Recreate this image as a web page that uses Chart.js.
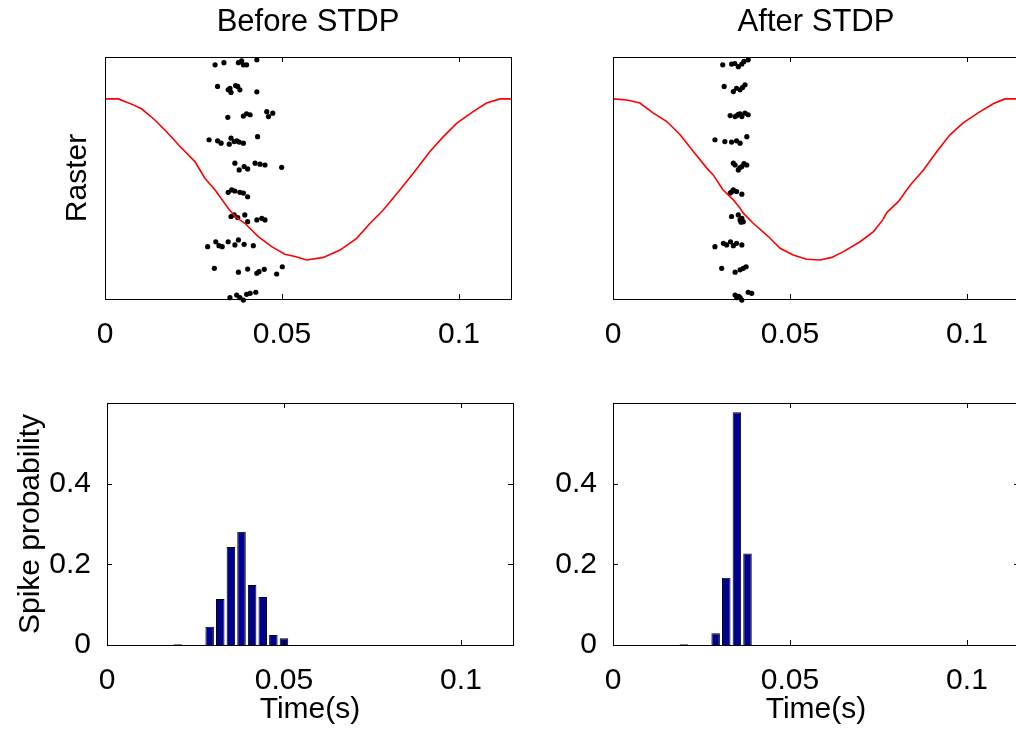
<!DOCTYPE html>
<html>
<head>
<meta charset="utf-8">
<script src="https://cdn.jsdelivr.net/npm/chart.js@4.4.1/dist/chart.umd.min.js"></script>
<style>
  html, body { margin: 0; padding: 0; background: #fff; overflow: hidden; width: 1016px; height: 730px; }
  canvas { position: absolute; }
</style>
</head>
<body>
<canvas id="rasterBefore" width="555" height="360" style="left:0;top:0"></canvas>
<canvas id="rasterAfter" width="475" height="360" style="left:555px;top:0"></canvas>
<canvas id="histBefore" width="555" height="370" style="left:0;top:360px"></canvas>
<canvas id="histAfter" width="475" height="370" style="left:555px;top:360px"></canvas>
<script>
// axis ticks
const xTicks = [0, 0.05, 0.1];
const probTicks = [0, 0.2, 0.4];
const tMax = 0.1147;

// red reference curve (time in s, height in trial units)
const beforeCurveT = [0, .0038, .0056, .0080, .0104, .0141, .0174, .0212, .0254, .0282, .0311, .0348, .0367, .0395, .0433, .0471, .0508, .0537, .0570, .0617, .0664, .0711, .0749, .0786, .0833, .0871, .0918, .0956, .0994, .1040, .1078, .1116, .1147];
const beforeCurveV = [8.59, 8.59, 8.49, 8.36, 8.20, 7.78, 7.33, 6.76, 6.18, 5.54, 5.09, 4.39, 4.07, 3.81, 3.30, 2.91, 2.62, 2.53, 2.40, 2.50, 2.78, 3.23, 3.81, 4.32, 5.09, 5.73, 6.57, 7.14, 7.66, 8.10, 8.43, 8.59, 8.59];
const afterCurveT = [0, .0039, .0076, .0114, .0152, .0189, .0227, .0265, .0283, .0311, .0340, .0359, .0368, .0396, .0439, .0472, .0509, .0547, .0585, .0618, .0651, .0698, .0736, .0762, .0774, .0806, .0840, .0877, .0915, .0952, .0990, .1037, .1074, .1107, .1147];
const afterCurveV = [8.59, 8.55, 8.43, 8.04, 7.72, 7.22, 6.57, 5.93, 5.67, 5.09, 4.71, 4.39, 4.20, 3.81, 3.30, 2.85, 2.59, 2.43, 2.40, 2.50, 2.72, 3.10, 3.49, 3.94, 4.23, 4.64, 5.28, 5.86, 6.57, 7.21, 7.68, 8.10, 8.40, 8.59, 8.59];

// spikes, trials 10 (top) to 1 (bottom)
const beforeSpikeT = [
  .0311, .0336, .0377, .0386, .0391, .0400, .0429,
  .0318, .0348, .0356, .0353, .0369, .0375, .0381, .0429,
  .0347, .0391, .0400, .0410, .0457, .0462, .0474,
  .0294, .0318, .0328, .0351, .0356, .0365, .0372, .0379, .0391, .0431,
  .0367, .0379, .0393, .0403, .0424, .0438, .0452, .0499,
  .0348, .0358, .0367, .0381, .0391, .0403,
  .0356, .0365, .0375, .0395, .0403, .0429, .0443, .0452,
  .0290, .0313, .0322, .0331, .0348, .0367, .0377, .0393, .0419,
  .0309, .0377, .0403, .0429, .0435, .0450, .0485, .0501,
  .0353, .0372, .0381, .0391, .0400, .0410, .0426
];
const beforeSpikeY = [
  9.90, 9.98, 9.98, 10.05, 9.90, 9.90, 10.09,
  9.07, 8.94, 8.84, 9.00, 9.10, 9.07, 8.94, 8.86,
  7.88, 7.93, 8.02, 7.98, 8.10, 7.91, 8.04,
  7.02, 6.98, 6.89, 6.85, 7.08, 6.95, 6.98, 6.93, 6.89, 7.14,
  6.12, 5.86, 5.99, 5.90, 6.12, 6.08, 6.05, 5.96,
  5.00, 5.09, 5.05, 5.00, 4.97, 4.83,
  4.07, 4.13, 4.03, 4.13, 3.87, 3.94, 4.00, 3.94,
  2.91, 3.10, 2.95, 2.91, 3.10, 2.98, 3.17, 3.00, 2.95,
  2.08, 1.93, 2.05, 1.89, 1.95, 2.04, 1.86, 2.14,
  0.95, 1.05, 0.95, 0.86, 1.08, 1.12, 1.16
];
const afterSpikeT = [
  .0310, .0335, .0344, .0354, .0364, .0370, .0382,
  .0314, .0340, .0349, .0359, .0366, .0373,
  .0331, .0345, .0350, .0354, .0359, .0364, .0373, .0382,
  .0288, .0316, .0335, .0349, .0359, .0378,
  .0340, .0345, .0354, .0359, .0364, .0370, .0378,
  .0331, .0335, .0340, .0349, .0364,
  .0335, .0354, .0359, .0362, .0364, .0368,
  .0288, .0312, .0321, .0332, .0340, .0349, .0364,
  .0307, .0345, .0359, .0368, .0376,
  .0345, .0350, .0355, .0359, .0364, .0382, .0392
];
const afterSpikeY = [
  9.90, 9.93, 9.95, 9.83, 9.93, 10.03, 10.09,
  9.07, 8.87, 9.00, 8.94, 9.03, 9.13,
  7.95, 7.91, 7.95, 8.00, 8.02, 7.91, 8.04, 7.98,
  7.02, 6.95, 6.93, 6.98, 6.89, 7.14,
  6.12, 6.05, 5.86, 5.95, 5.99, 6.10, 6.05,
  4.97, 5.02, 5.09, 5.03, 4.93,
  4.07, 4.13, 3.94, 3.85, 4.00, 3.87,
  2.91, 3.04, 2.98, 3.10, 2.95, 3.04, 2.98,
  2.08, 1.93, 2.02, 2.08, 2.14,
  1.05, 0.95, 1.00, 0.95, 0.86, 1.16, 1.12
];

// histogram bins (s) and spike probability
const beforeBins = [0.020, 0.029, 0.032, 0.035, 0.038, 0.041, 0.044, 0.047, 0.050];
const beforeProb = [0.002, 0.045, 0.114, 0.243, 0.281, 0.149, 0.119, 0.025, 0.017];
const afterBins = [0.020, 0.029, 0.032, 0.035, 0.038];
const afterProb = [0.002, 0.029, 0.167, 0.577, 0.227];

// the matlab text is tall and narrow: use the narrow face if it is there
const probe = document.createElement('canvas').getContext('2d');
probe.font = '36px "Liberation Sans Narrow", monospace';
const wNarrow = probe.measureText('Before STDP').width;
probe.font = '36px monospace';
const narrow = wNarrow !== probe.measureText('Before STDP').width;

const tickSize = narrow ? 36 : 30;
const titleSize = narrow ? 38 : 31;
const labelSize = narrow ? 36 : 30;

Chart.defaults.font.family = narrow
  ? '"Liberation Sans Narrow", "Liberation Sans", sans-serif'
  : '"Liberation Sans", Arial, sans-serif';
Chart.defaults.font.size = tickSize;
Chart.defaults.font.lineHeight = 1;
Chart.defaults.color = '#000';
Chart.defaults.animation = false;

// box round the axes with inward ticks, like matlab
const framePlugin = {
  id: 'frame',
  afterDatasetsDraw(chart, args, opts) {
    const { ctx, chartArea: a, scales } = chart;
    const tl = 5;
    ctx.save();
    ctx.strokeStyle = '#000';
    ctx.lineWidth = 1;
    ctx.beginPath();
    scales.x.ticks.forEach(t => {
      const px = Math.round(scales.x.getPixelForValue(t.value)) + 0.5;
      ctx.moveTo(px, a.bottom); ctx.lineTo(px, a.bottom - tl);
      ctx.moveTo(px, a.top); ctx.lineTo(px, a.top + tl);
    });
    if (opts.yTicks) {
      scales.y.ticks.forEach(t => {
        const py = Math.round(scales.y.getPixelForValue(t.value)) + 0.5;
        ctx.moveTo(a.left, py); ctx.lineTo(a.left + tl, py);
        ctx.moveTo(a.right, py); ctx.lineTo(a.right - tl, py);
      });
    }
    ctx.stroke();
    ctx.strokeRect(Math.round(a.left) + 0.5, Math.round(a.top) + 0.5,
      Math.round(a.right - a.left), Math.round(a.bottom - a.top));
    ctx.restore();
  }
};

function timeAxis(height, title) {
  return {
    type: 'linear', min: 0, max: tMax, offset: false,
    grid: { display: false }, border: { display: false },
    ticks: { padding: 28 - tickSize / 2, maxRotation: 0, callback: v => String(v) },
    afterBuildTicks: s => { s.ticks = xTicks.map(v => ({ value: v })); },
    afterFit: s => { s.height = height; },
    title: {
      display: !!title, text: title || '', font: { size: labelSize },
      padding: { top: 0, bottom: 20 - labelSize / 2 }
    }
  };
}

function rasterChart(id, title, curveT, curveV, spikeT, spikeY, yWidth, yTitle, padRight) {
  const line = curveT.map((t, i) => ({ x: t, y: curveV[i] }));
  const dots = spikeT.map((t, i) => ({ x: t, y: spikeY[i] }));
  new Chart(document.getElementById(id), {
    type: 'scatter',
    data: {
      datasets: [
        { data: line, showLine: true, borderColor: '#ff0000', borderWidth: 1.6, pointRadius: 0, tension: 0 },
        { data: dots, pointRadius: 2.6, pointBackgroundColor: '#000', pointBorderWidth: 0, clip: false }
      ]
    },
    options: {
      responsive: false,
      events: [],
      layout: { padding: { left: 0, right: padRight, top: 0, bottom: 0 } },
      plugins: {
        legend: { display: false },
        tooltip: { enabled: false },
        title: {
          display: true, text: title, fullSize: false,
          font: { size: titleSize, weight: 'normal' },
          padding: { top: 22 - titleSize / 2, bottom: 57 - 22 - titleSize / 2 }
        },
        frame: { yTicks: false }
      },
      scales: {
        x: timeAxis(61),
        y: {
          min: 0.9, max: 10.2,
          grid: { display: false }, border: { display: false },
          ticks: { display: false },
          afterFit: s => { s.width = yWidth; },
          title: {
            display: !!yTitle, text: yTitle || '', font: { size: labelSize },
            padding: { top: 78 - labelSize / 2, bottom: 0 }
          }
        }
      }
    },
    plugins: [framePlugin]
  });
}

function histChart(id, bins, prob, yWidth, yTitle, padRight) {
  new Chart(document.getElementById(id), {
    type: 'bar',
    data: {
      datasets: [{
        data: bins.map((b, i) => ({ x: b, y: prob[i] })),
        backgroundColor: '#00008f',
        borderColor: '#000',
        borderWidth: 1,
        barPercentage: 0.8,
        categoryPercentage: 1
      }]
    },
    options: {
      responsive: false,
      events: [],
      layout: { padding: { left: 0, right: padRight, top: 43, bottom: 0 } },
      plugins: {
        legend: { display: false },
        tooltip: { enabled: false },
        frame: { yTicks: true }
      },
      scales: {
        x: timeAxis(85, 'Time(s)'),
        y: {
          min: 0, max: 0.6,
          grid: { display: false }, border: { display: false },
          ticks: { padding: 8, callback: v => String(v) },
          afterBuildTicks: s => { s.ticks = probTicks.map(v => ({ value: v })); },
          afterFit: s => { s.width = yWidth; },
          title: {
            display: !!yTitle, text: yTitle || '', font: { size: labelSize },
            padding: { top: 31 - labelSize / 2, bottom: 0 }
          }
        }
      }
    },
    plugins: [framePlugin]
  });
}

rasterChart('rasterBefore', 'Before STDP', beforeCurveT, beforeCurveV, beforeSpikeT, beforeSpikeY, 105, 'Raster', 44);
rasterChart('rasterAfter', 'After STDP', afterCurveT, afterCurveV, afterSpikeT, afterSpikeY, 58, null, 11);
histChart('histBefore', beforeBins, beforeProb, 107, 'Spike probability', 42);
histChart('histAfter', afterBins, afterProb, 58, null, 11);
</script>
</body>
</html>
